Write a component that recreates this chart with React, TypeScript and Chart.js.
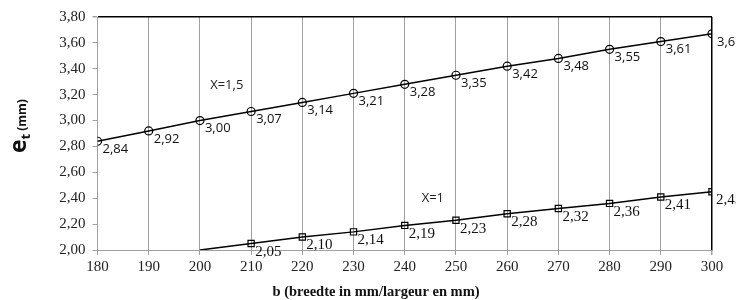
import React, { useEffect, useRef } from "react";
import { Chart, registerables } from "chart.js";

Chart.register(...registerables);

// Category values (b in mm)
const B_VALUES = [180, 190, 200, 210, 220, 230, 240, 250, 260, 270, 280, 290, 300];
// Series X=1,5
const SERIES_X15 = [2.84, 2.92, 3.0, 3.07, 3.14, 3.21, 3.28, 3.35, 3.42, 3.48, 3.55, 3.61, 3.67];
// Series X=1 (starts at b=200)
const B_VALUES_X1 = [200, 210, 220, 230, 240, 250, 260, 270, 280, 290, 300];
const SERIES_X1 = [2.0, 2.05, 2.1, 2.14, 2.19, 2.23, 2.28, 2.32, 2.36, 2.41, 2.45];
// Y axis ticks
const Y_TICKS = [2.0, 2.2, 2.4, 2.6, 2.8, 3.0, 3.2, 3.4, 3.6, 3.8];
const SERIES_NAMES = ["X=1,5", "X=1"];
const X_TITLE = "b (breedte in mm/largeur en mm)";

const fmt = (v: number) => v.toFixed(2).replace(".", ",");

const SANS = "'Open Sans', 'Noto Sans', sans-serif";
const SERIF = "'Liberation Serif', 'Times New Roman', serif";

const customText = {
  id: "customText",
  afterDatasetsDraw(chart: any) {
    const ctx = chart.ctx;
    ctx.save();
    ctx.fillStyle = "#111";
    ctx.textAlign = "left";
    ctx.textBaseline = "middle";
    // data labels
    chart.data.datasets.forEach((ds: any, i: number) => {
      const meta = chart.getDatasetMeta(i);
      ctx.font = i === 0 ? `13px ${SANS}` : `15px ${SERIF}`;
      meta.data.forEach((el: any, j: number) => {
        if (ds.noLabel && ds.noLabel[j]) return;
        const v = ds.data[j].y;
        ctx.fillText(fmt(v), el.x + (i === 0 ? 5 : 4), el.y + (i === 0 ? 8 : 8.5));
      });
    });
    // series names
    const xs = chart.scales.x;
    const ys = chart.scales.y;
    ctx.font = `13px ${SANS}`;
    ctx.fillStyle = "#222";
    ctx.fillText(SERIES_NAMES[0], xs.getPixelForValue(202.0), ys.getPixelForValue(3.275));
    ctx.fillText(SERIES_NAMES[1], xs.getPixelForValue(243.3), ys.getPixelForValue(2.4));
    // x title
    ctx.font = `bold 14.5px ${SERIF}`;
    ctx.textAlign = "center";
    ctx.textBaseline = "alphabetic";
    ctx.fillStyle = "#111";
    ctx.fillText(X_TITLE, 376, 296);
    // y title with subscript
    ctx.translate(26, 153);
    ctx.rotate(-Math.PI / 2);
    ctx.textAlign = "left";
    ctx.font = `bold 23px ${SANS}`;
    ctx.fillText("e", 0, 0);
    let w = ctx.measureText("e").width;
    ctx.font = `bold 13px ${SANS}`;
    ctx.fillText("t", w, 4);
    w += ctx.measureText("t").width + 3;
    ctx.font = `bold 12px ${SANS}`;
    ctx.fillText("(mm)", w, 0);
    ctx.restore();
  },
};

export default function App() {
  const ref = useRef<HTMLCanvasElement>(null);
  useEffect(() => {
    if (!ref.current) return;
    const chart = new Chart(ref.current, {
      type: "line",
      data: {
        datasets: [
          {
            label: SERIES_NAMES[0],
            data: B_VALUES.map((b, i) => ({ x: b, y: SERIES_X15[i] })),
            borderColor: "#000",
            borderWidth: 1.5,
            backgroundColor: "rgba(0,0,0,0)",
            pointStyle: "circle",
            pointRadius: 4,
            pointBorderColor: "#000",
            pointBorderWidth: 1.2,
            pointBackgroundColor: "rgba(0,0,0,0)",
            tension: 0,
          },
          {
            label: SERIES_NAMES[1],
            data: B_VALUES_X1.map((b, i) => ({ x: b, y: SERIES_X1[i] })),
            noLabel: B_VALUES_X1.map((_, i) => i === 0),
            borderColor: "#000",
            borderWidth: 1.5,
            backgroundColor: "rgba(0,0,0,0)",
            pointStyle: "rect",
            pointRadius: B_VALUES_X1.map((_, i) => (i === 0 ? 0 : 4.4)),
            pointBorderColor: "#000",
            pointBorderWidth: 1.2,
            pointBackgroundColor: "rgba(0,0,0,0)",
            tension: 0,
          } as any,
        ],
      },
      options: {
        animation: false,
        responsive: false,
        maintainAspectRatio: false,
        layout: { padding: { top: 17, right: 24, left: 0, bottom: 0 } },
        plugins: {
          legend: { display: false },
          tooltip: { enabled: false },
        },
        scales: {
          x: {
            type: "linear",
            min: 180,
            max: 300,
            afterBuildTicks: (s: any) => {
              s.ticks = B_VALUES.map((v) => ({ value: v }));
            },
            afterFit: (s: any) => {
              s.height = 50;
            },
            ticks: {
              font: { family: SERIF, size: 15 },
              color: "#222",
              padding: 3,
              maxRotation: 0,
              autoSkip: false,
              callback: (v: any) => String(v),
            },
            grid: {
              color: (c: any) => (c.tick && c.tick.value === 300 ? "#000" : "#a0a0a0"),
              lineWidth: (c: any) => (c.tick && c.tick.value === 300 ? 1.5 : 1),
              tickColor: "#a0a0a0",
              tickLength: 5,
            },
            border: { color: "#a0a0a0", width: 1 },
          },
          y: {
            type: "linear",
            min: 2,
            max: 3.8,
            afterBuildTicks: (s: any) => {
              s.ticks = Y_TICKS.map((v) => ({ value: v }));
            },
            afterFit: (s: any) => {
              s.width = 97.5;
            },
            ticks: {
              font: { family: SERIF, size: 15 },
              color: "#222",
              padding: 7,
              callback: (v: any) => fmt(Number(v)),
            },
            grid: {
              color: (c: any) =>
                c.tick && Math.abs(c.tick.value - 3.8) < 1e-6 ? "#000" : "rgba(0,0,0,0)",
              lineWidth: (c: any) => (c.tick && Math.abs(c.tick.value - 3.8) < 1e-6 ? 1.5 : 1),
              tickColor: "#a0a0a0",
              tickLength: 5,
            },
            border: { color: "#a0a0a0", width: 1 },
          },
        },
      } as any,
      plugins: [customText],
    });
    return () => chart.destroy();
  }, []);
  return (
    <div style={{ position: "absolute", left: 0, top: 0, width: 736, height: 300, background: "#fff" }}>
      <canvas ref={ref} width={736} height={300} />
    </div>
  );
}
